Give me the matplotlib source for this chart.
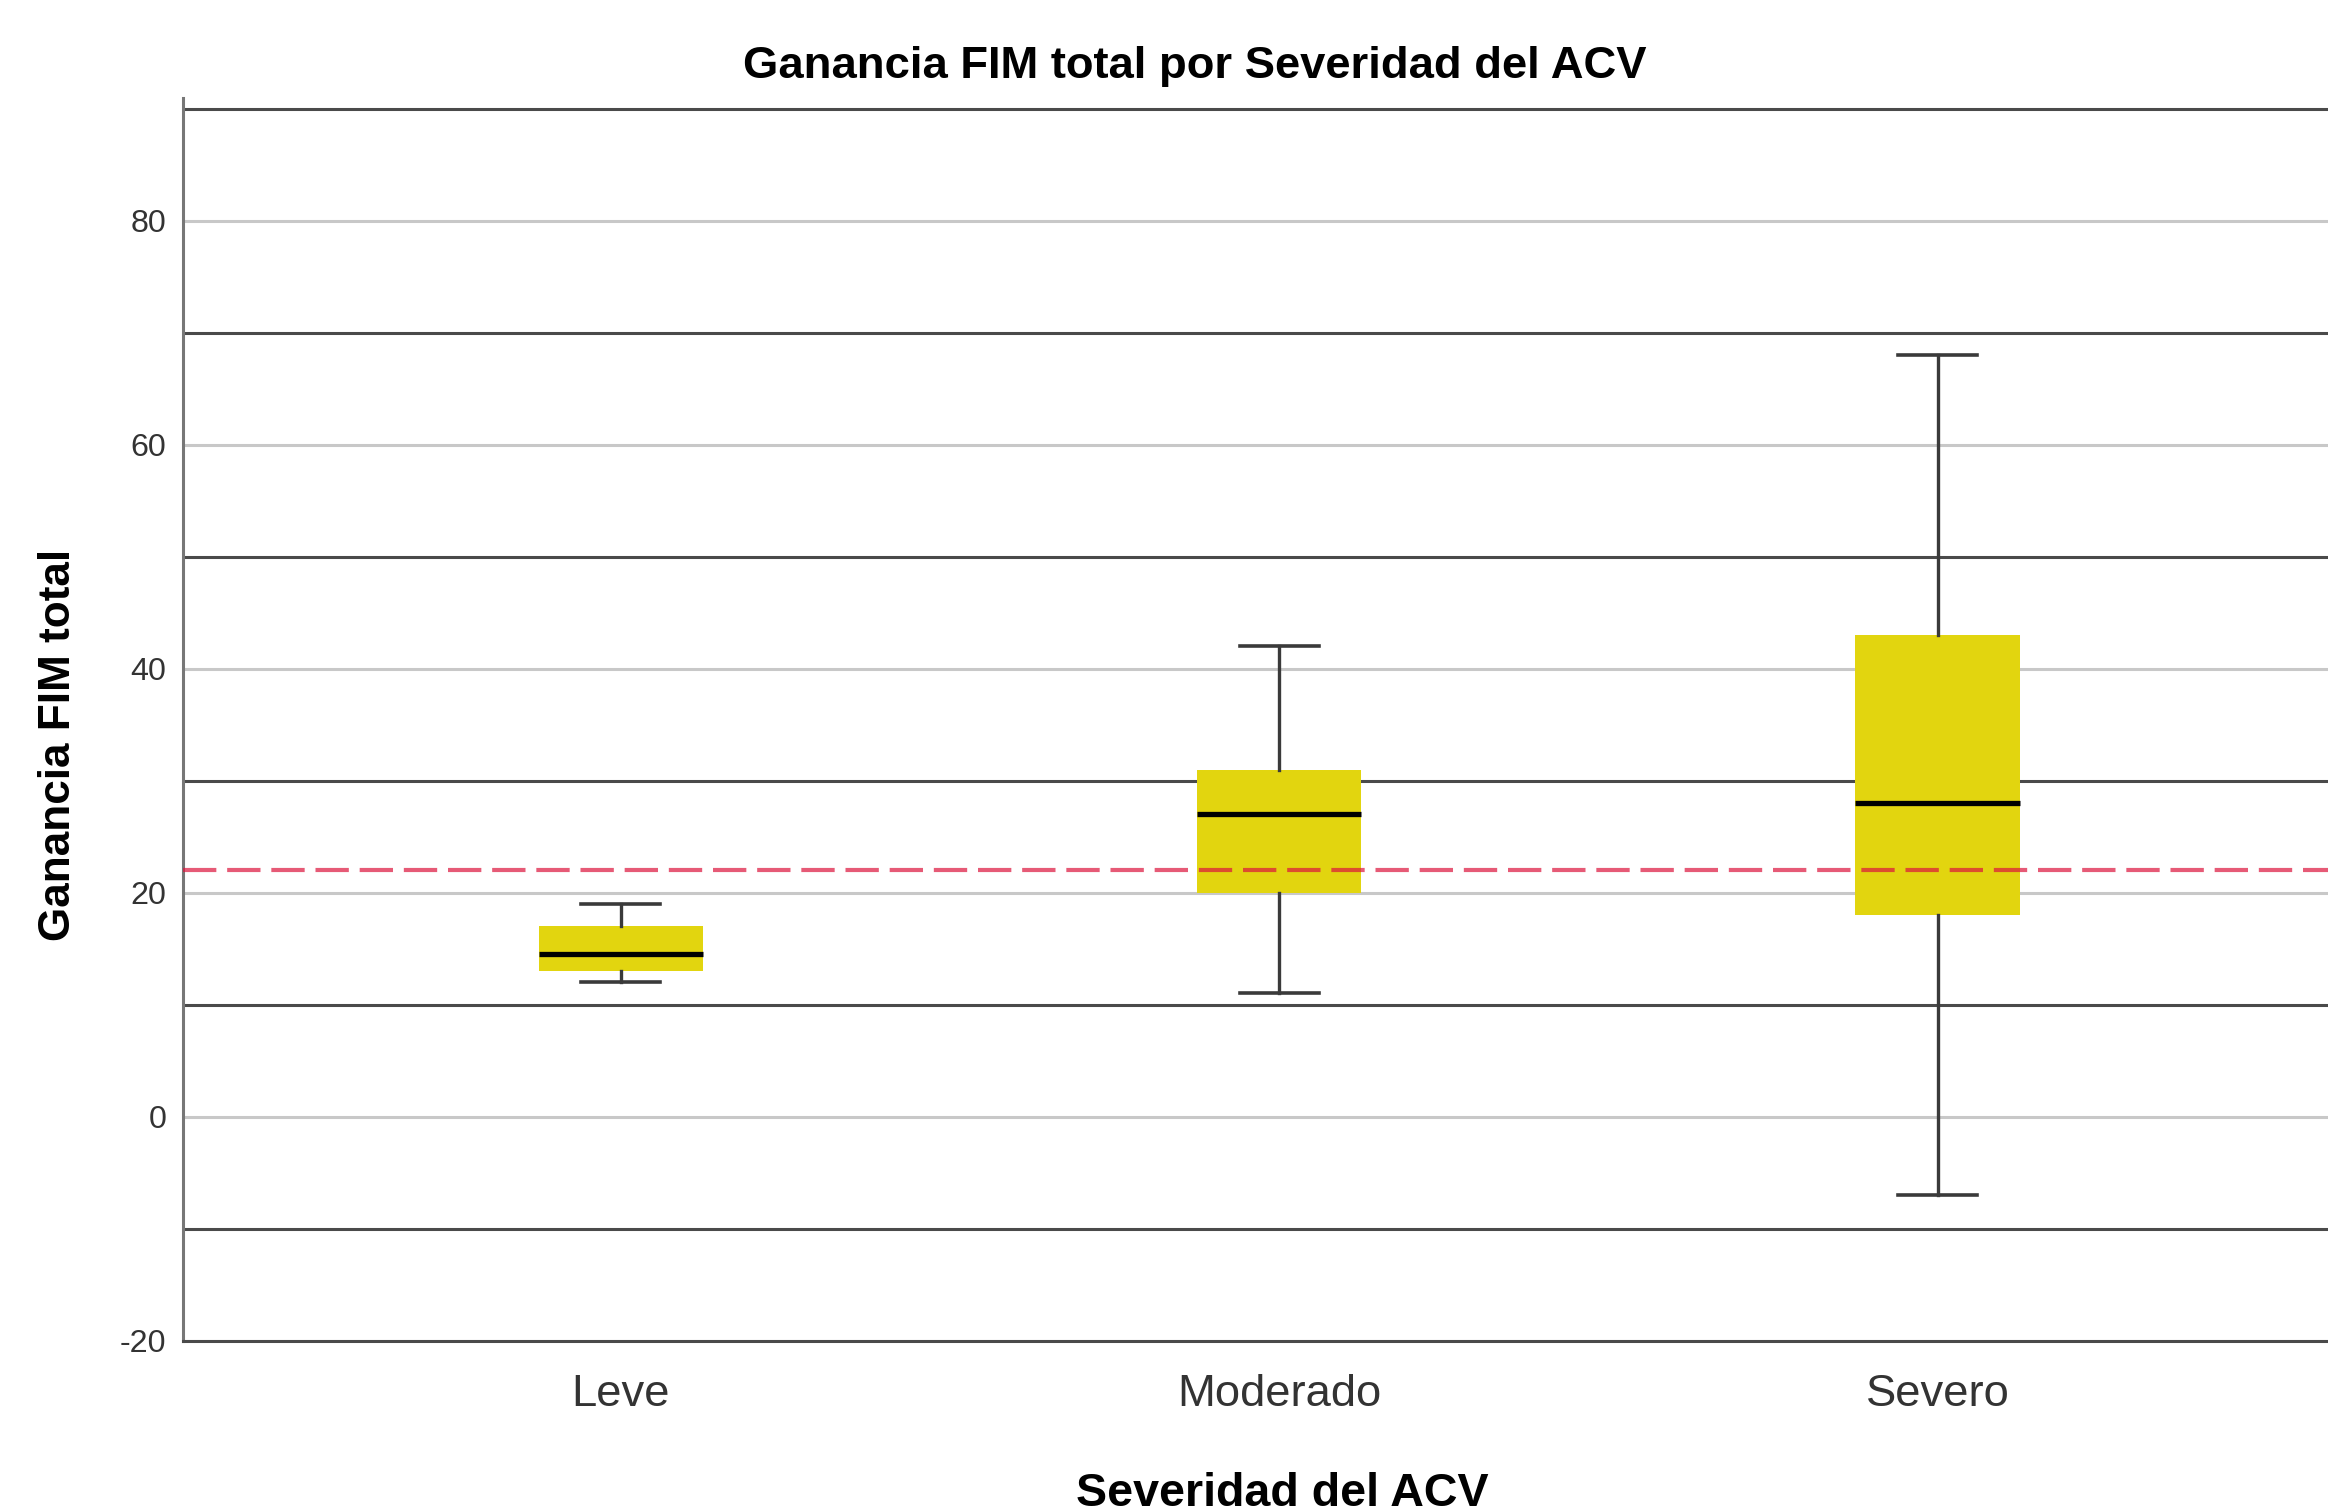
import matplotlib
matplotlib.use("Agg")
import matplotlib.pyplot as plt
from matplotlib import font_manager
import numpy as np

# datos (Ganancia FIM total por severidad)
categorias = ['Leve', 'Moderado', 'Severo']
whis_lo = [12, 11, -7]
q1 = [13, 20, 18]
mediana = [14.5, 27, 28]
q3 = [17, 31, 43]
whis_hi = [19, 42, 68]
referencia = 22   # linea roja discontinua

# fuente estrecha tipo Arial Narrow si existe, si no Liberation Sans mas pequeña
fam = 'Liberation Sans'
escala = 0.86
try:
    font_manager.findfont('Liberation Sans Narrow', fallback_to_default=False)
    fam = 'Liberation Sans Narrow'
    escala = 1.0
except Exception:
    pass
plt.rcParams['font.family'] = [fam, 'DejaVu Sans']
plt.rcParams['axes.unicode_minus'] = False

fig = plt.figure(figsize=(23.28, 15.12), dpi=100)
ax = fig.add_axes([0.0786, 0.1133, 0.9214, 0.8222])

stats = []
for i in range(len(categorias)):
    stats.append(dict(label=categorias[i], whislo=whis_lo[i], q1=q1[i], med=mediana[i],
                      q3=q3[i], whishi=whis_hi[i], fliers=[]))

ax.bxp(stats, positions=[1, 2, 3], widths=0.25, patch_artist=True, showfliers=False,
       capwidths=0.12,
       boxprops=dict(facecolor='#e2d50f', edgecolor='none', linewidth=0),
       medianprops=dict(color='black', linewidth=3.8, solid_capstyle='butt'),
       whiskerprops=dict(color='#3a3a3a', linewidth=2.4),
       capprops=dict(color='#3a3a3a', linewidth=2.6),
       zorder=3)

ax.axhline(referencia, color='#dc143c', alpha=0.7, linewidth=3.0,
           linestyle=(0, (8.0, 2.6)), zorder=4)

ax.set_xlim(0.335, 3.593)
ax.set_ylim(-20, 91)
ax.set_yticks(np.arange(-20, 81, 20))
ax.set_yticks(np.arange(-10, 91, 20), minor=True)
ax.grid(which='major', axis='y', color='#c8c8c8', linewidth=2.2, zorder=0)
ax.grid(which='minor', axis='y', color='#4a4a4a', linewidth=2.2, zorder=0)
ax.set_axisbelow(True)

ax.set_xticks([1, 2, 3])
ax.set_xticklabels(categorias, fontsize=38 * escala, color='#333333')
ax.tick_params(axis='x', length=0, pad=24)
ax.tick_params(axis='y', which='both', length=0, pad=12, labelsize=27 * escala, labelcolor='#333333')

for s in ['top', 'right']:
    ax.spines[s].set_visible(False)
ax.spines['left'].set_color('#777777')
ax.spines['left'].set_linewidth(2.2)
ax.spines['bottom'].set_color('#4a4a4a')
ax.spines['bottom'].set_linewidth(2.2)

fig.text(0.513, 0.956, 'Ganancia FIM total por Severidad del ACV', ha='center', va='center',
         fontsize=38 * escala, fontweight='bold')
fig.text(0.551, 0.012, 'Severidad del ACV', ha='center', va='center', fontsize=39 * escala,
         fontweight='bold')
fig.text(0.0253, 0.507, 'Ganancia FIM total', ha='center', va='center', rotation=90,
         fontsize=37 * escala, fontweight='bold')

fig.savefig('out.png', dpi=100, facecolor='white')
